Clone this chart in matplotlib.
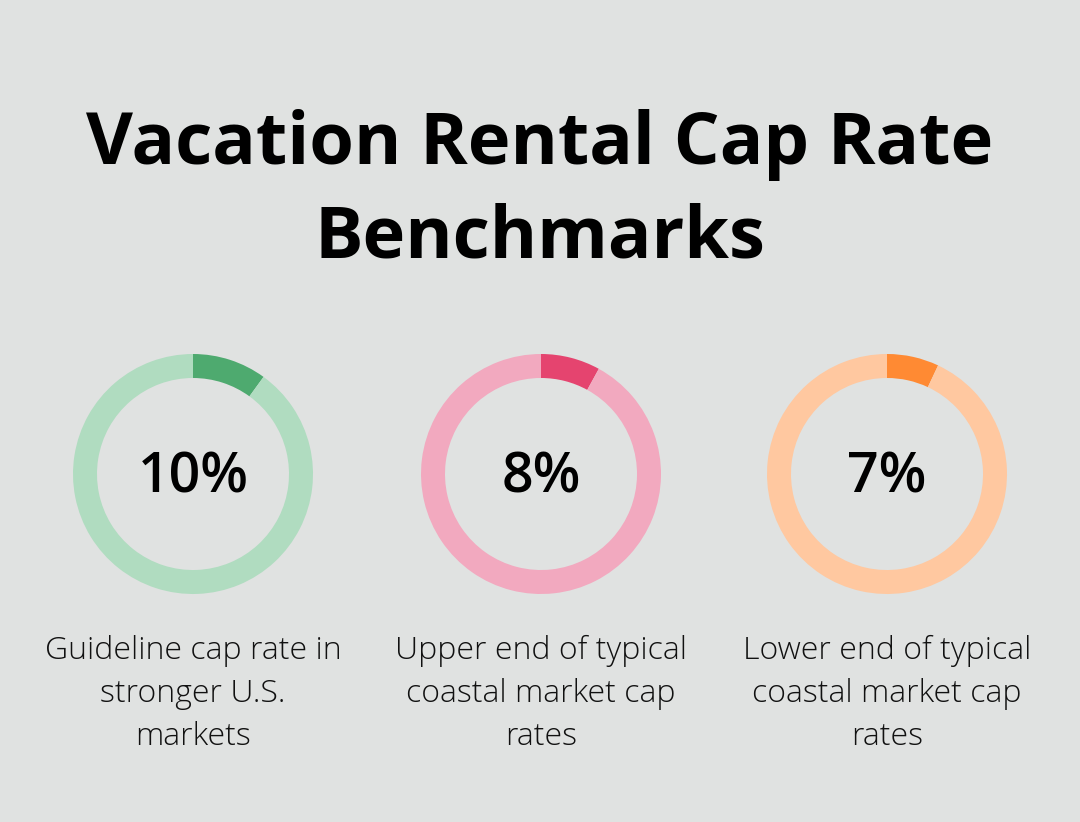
import matplotlib.pyplot as plt

# chart data
title = "Vacation Rental Cap Rate\nBenchmarks"
values = [10, 8, 7]
value_labels = ["10%", "8%", "7%"]
captions = [
    "Guideline cap rate in\nstronger U.S.\nmarkets",
    "Upper end of typical\ncoastal market cap\nrates",
    "Lower end of typical\ncoastal market cap\nrates",
]
dark_colors = ["#4eaa6f", "#e5446f", "#ff8a33"]
light_colors = ["#b0dcc0", "#f2a9bf", "#ffc8a0"]

bg = "#e0e2e1"
W, H = 1080, 822

fig = plt.figure(figsize=(W / 100, H / 100), dpi=100, facecolor=bg)
ax = fig.add_axes([0, 0, 1, 1])
ax.set_facecolor(bg)

ax.text(W / 2, H - 192, title, ha="center", va="center", fontsize=52,
        fontweight="bold", family="Open Sans", linespacing=1.4, color="#000000")

centers_x = [193, 541, 887]
cy = H - 474

for i, v in enumerate(values):
    cx = centers_x[i]
    ax.pie([v, 100 - v], colors=[dark_colors[i], light_colors[i]],
           center=(cx, cy), radius=120, startangle=90, counterclock=False,
           wedgeprops=dict(width=24, linewidth=0), frame=True)
    ax.text(cx, cy - 4, value_labels[i], ha="center", va="center", fontsize=40,
            fontweight="semibold", family="Open Sans", color="#000000")
    ax.text(cx, H - 635, captions[i], ha="center", va="top", fontsize=23,
            fontweight="light", family="Open Sans", linespacing=1.46,
            color="#111111")

ax.set_xlim(0, W)
ax.set_ylim(0, H)
ax.set_aspect("auto")
ax.axis("off")

fig.savefig("out.png", dpi=100, facecolor=bg)
